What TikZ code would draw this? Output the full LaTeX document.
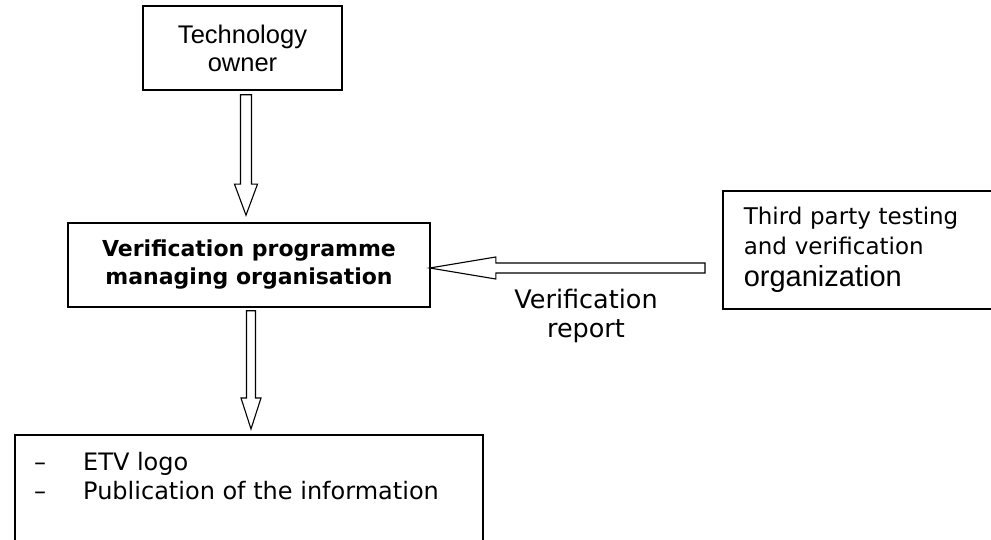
\documentclass[tikz,border=0pt]{standalone}
\usepackage{fontspec}
\setmainfont{DejaVu Sans}
\newfontfamily\arialfont{Liberation Sans}
\usetikzlibrary{calc}
\tikzset{
  box/.style={draw=black, line width=1.6pt, rectangle, inner sep=0pt},
  blockarrow/.style n args={3}{draw=black, line width=1.1pt, line join=miter, fill=white,
    to path={($(\tikztostart)!#1!90:(\tikztotarget)$)
      -- ($(\tikztotarget)!#3!(\tikztostart)!#1!90:(\tikztotarget)$)
      -- ($(\tikztotarget)!#3!(\tikztostart)!#2!90:(\tikztotarget)$)
      -- (\tikztotarget)
      -- ($(\tikztotarget)!#3!(\tikztostart)!#2!-90:(\tikztotarget)$)
      -- ($(\tikztotarget)!#3!(\tikztostart)!#1!-90:(\tikztotarget)$)
      -- ($(\tikztostart)!#1!-90:(\tikztotarget)$) -- cycle}}
}
\begin{document}
\begin{tikzpicture}[x=1pt, y=1pt]
        \clip (0,0) rectangle (991,540);

        \node (own) [box, minimum width=199pt, minimum height=84pt, align=center,
          font=\arialfont\fontsize{25.5}{28}\selectfont] at (242.5,492) {Technology\\owner};
        \node (vpmo) [box, minimum width=362pt, minimum height=84pt, align=center,
          font=\bfseries\fontsize{22}{28}\selectfont] at (249,275) {Verification programme\\managing organisation};
        \node (tpo) [box, anchor=west, inner xsep=21pt, text width=249pt, minimum height=118pt, align=left,
          font=\fontsize{23}{32}\selectfont] at (722,290)
          {Third party testing\\[-2pt]and verification\\{\arialfont\fontsize{29}{30}\selectfont organization}};
        \node (pub) [box, line width=1.8pt, anchor=north west, minimum width=468pt, minimum height=140pt] at (14,106) {};
        \node (lst) [anchor=north west, align=left, inner sep=0pt, font=\fontsize{24}{29}\selectfont] at (34,88)
          {\makebox[49pt][l]{–}ETV logo\\\makebox[49pt][l]{–}Publication of the information};
        \node (rep) [align=center, font=\fontsize{25.5}{29}\selectfont] at (586,224) {Verification\\report};

        \coordinate (o1) at ([xshift=3.5pt,yshift=-4pt]own.south);
        \path (o1 |- vpmo.north) ++(0,7) coordinate (o2);
        \coordinate (m1) at ([xshift=2pt,yshift=-3pt]vpmo.south);
        \path (m1 |- pub.north) ++(0,5) coordinate (m2);
        \coordinate (t1) at ([xshift=-17pt,yshift=-18pt]tpo.west);
        \path (vpmo.east |- t1) ++(-1,0) coordinate (t2);

        \draw[blockarrow={5.5pt}{11.5pt}{31pt}] (o1) to (o2);
        \draw[blockarrow={4.5pt}{10pt}{31pt}] (m1) to (m2);
        \draw[blockarrow={5pt}{11pt}{66pt}] (t1) to (t2);
    \end{tikzpicture}
\end{document}
